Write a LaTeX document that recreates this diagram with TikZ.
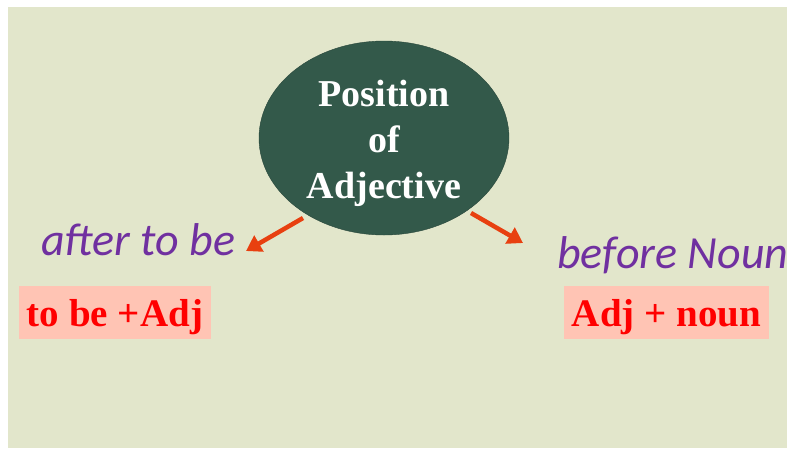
\documentclass[tikz,border=0pt]{standalone}
\usepackage{fontspec}
\setmainfont{Liberation Serif}
\newfontfamily\carl{Carlito}
\usetikzlibrary{arrows.meta,shapes.geometric}
\definecolor{bgc}{HTML}{E2E6CB}
\definecolor{ellc}{HTML}{33594A}
\definecolor{purp}{HTML}{7030A0}
\definecolor{arrc}{HTML}{E84010}
\definecolor{boxc}{HTML}{FFC4B4}
\begin{document}
\begin{tikzpicture}[x=1pt,y=-1pt,
  lbl/.style={font=\carl\itshape\fontsize{46}{46}\selectfont, text=purp, inner sep=0pt},
  redbox/.style={fill=boxc, text=red, font=\bfseries\fontsize{39}{39}\selectfont, inner sep=0pt, minimum height=53pt, text depth=0pt},
  arr/.style={draw=arrc, line width=4.5pt, -{Triangle[length=15pt,width=18pt]}}]
\useasboundingbox (0,0) rectangle (787,448);
\fill[white] (0,0) rectangle (787,448);
\fill[bgc] (8,7) rectangle (787,448);
\node[ellipse, fill=ellc, draw=ellc!80!black, minimum width=250pt, minimum height=194pt, inner sep=0pt] (ell) at (384,138) {};
\node[text=white, font=\bfseries\fontsize{38}{46}\selectfont, align=center] (t) at (384,143) {Position\\of\\Adjective};
\node[lbl, anchor=base west] (after) at (41,255) {after to be};
\node[lbl, anchor=base west] (before) at (557,268) {before Noun};
\node[redbox, minimum width=192pt] (b1) at (115,312.5) {to be +Adj};
\node[redbox, minimum width=205pt] (b2) at (666.5,312.5) {Adj + noun};
\coordinate (s1) at (303,218);
\coordinate (e1) at (246,251);
\coordinate (s2) at (471,213);
\coordinate (e2) at (523,243);
\draw[arr] (s1) -- (e1);
\draw[arr] (s2) -- (e2);
\end{tikzpicture}
\end{document}
